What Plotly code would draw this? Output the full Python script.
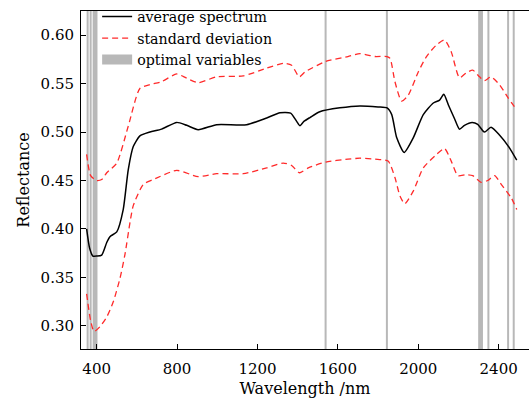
import plotly.graph_objects as go

# ---- data ----
wl_mean = [350, 365, 381, 400, 425, 450, 466, 500, 532, 557, 582, 615, 665, 723, 798, 848,
           905, 997, 1146, 1246, 1312, 1365, 1395, 1411, 1431, 1461, 1510, 1610, 1710, 1800,
           1845, 1868, 1893, 1930, 1975, 2025, 2075, 2106, 2127, 2150, 2180, 2205, 2230, 2268,
           2296, 2329, 2362, 2404, 2453, 2490]
mean_vals = [0.400, 0.380, 0.372, 0.372, 0.373, 0.386, 0.392, 0.397, 0.420, 0.461, 0.485, 0.496,
             0.500, 0.503, 0.510, 0.507, 0.5025, 0.5076, 0.5076, 0.5145, 0.520, 0.5196, 0.511,
             0.5066, 0.511, 0.515, 0.521, 0.525, 0.527, 0.526, 0.525, 0.518, 0.494, 0.479, 0.494,
             0.518, 0.530, 0.533, 0.539, 0.528, 0.514, 0.503, 0.507, 0.510, 0.508, 0.500, 0.505,
             0.497, 0.484, 0.471]

wl_upper = [350, 370, 400, 425, 450, 500, 557, 615, 665, 723, 798, 848, 905, 997, 1129, 1246,
            1328, 1370, 1408, 1436, 1540, 1650, 1710, 1785, 1845, 1860, 1884, 1917, 1950, 2000,
            2041, 2091, 2131, 2164, 2205, 2238, 2271, 2305, 2329, 2362, 2404, 2448, 2490]
upper_vals = [0.477, 0.455, 0.450, 0.451, 0.458, 0.468, 0.506, 0.545, 0.549, 0.552, 0.560, 0.5556,
              0.551, 0.557, 0.558, 0.566, 0.571, 0.569, 0.557, 0.562, 0.573, 0.578, 0.581, 0.578,
              0.578, 0.576, 0.552, 0.532, 0.538, 0.562, 0.578, 0.590, 0.595, 0.583, 0.556, 0.561,
              0.564, 0.557, 0.553, 0.557, 0.549, 0.535, 0.523]

wl_lower = [350, 370, 387, 416, 450, 483, 516, 541, 566, 582, 632, 682, 798, 905, 997, 1129,
            1246, 1328, 1370, 1408, 1453, 1540, 1650, 1710, 1785, 1850, 1884, 1909, 1933, 1975,
            2025, 2091, 2131, 2164, 2197, 2238, 2271, 2313, 2346, 2380, 2413, 2463, 2490]
lower_vals = [0.333, 0.305, 0.294, 0.299, 0.309, 0.325, 0.349, 0.374, 0.407, 0.424, 0.446, 0.451,
              0.4604, 0.454, 0.457, 0.457, 0.463, 0.468, 0.4655, 0.458, 0.463, 0.469, 0.472,
              0.473, 0.472, 0.470, 0.453, 0.434, 0.426, 0.439, 0.463, 0.477, 0.483, 0.470, 0.455,
              0.456, 0.455, 0.448, 0.450, 0.455, 0.446, 0.432, 0.420]

optimal_wl = [355, 370, 385, 392, 399, 1539, 1844, 2303, 2310, 2317, 2349, 2447, 2475]

x_ticks = [400, 800, 1200, 1600, 2000, 2400]
y_ticks = [0.30, 0.35, 0.40, 0.45, 0.50, 0.55, 0.60]

FONT = "DejaVu Serif"
GRAY = "#b8b8b8"
RED = "#ff2a2a"

fig = go.Figure()

fig.add_trace(go.Scatter(x=wl_mean, y=mean_vals, mode="lines", name="average spectrum",
                         line=dict(color="black", width=1.5, shape="spline", smoothing=0.6)))
fig.add_trace(go.Scatter(x=wl_upper, y=upper_vals, mode="lines", name="standard deviation",
                         legendgroup="sd",
                         line=dict(color=RED, width=1.3, dash="6px,4px", shape="spline", smoothing=0.6)))
fig.add_trace(go.Scatter(x=wl_lower, y=lower_vals, mode="lines", name="standard deviation",
                         legendgroup="sd", showlegend=False,
                         line=dict(color=RED, width=1.3, dash="6px,4px", shape="spline", smoothing=0.6)))
# legend entry for the optimal variables
fig.add_trace(go.Scatter(x=[None], y=[None], mode="lines", name="optimal variables",
                         line=dict(color=GRAY, width=10)))

for w in optimal_wl:
    fig.add_shape(type="line", xref="x", yref="paper", x0=w, x1=w, y0=0, y1=1,
                  line=dict(color=GRAY, width=2), layer="below")

fig.update_layout(
    width=529, height=398,
    margin=dict(l=81, r=0, t=11, b=47),
    paper_bgcolor="white", plot_bgcolor="white",
    font=dict(family=FONT, size=15, color="black"),
    showlegend=True,
    legend=dict(x=0.036, y=1.030, xanchor="left", yanchor="top", bgcolor="rgba(0,0,0,0)",
                font=dict(family=FONT, size=14.2, color="black"), borderwidth=0,
                tracegroupgap=0),
    xaxis=dict(range=[322, 2551], tickvals=x_ticks, ticktext=[str(v) for v in x_ticks],
               ticks="inside", ticklen=5, tickcolor="black", showline=True, linecolor="black",
               linewidth=1, mirror=True, showgrid=False, zeroline=False, ticklabelstandoff=6,
               title=dict(text="Wavelength /nm", font=dict(family=FONT, size=16), standoff=9)),
    yaxis=dict(range=[0.276, 0.625], tickvals=y_ticks, ticktext=[f"{v:.2f}" for v in y_ticks],
               ticks="inside", ticklen=5, tickcolor="black", showline=True, linecolor="black",
               linewidth=1, mirror=False, showgrid=False, zeroline=False, ticklabelstandoff=3,
               title=dict(text="Reflectance", font=dict(family=FONT, size=16), standoff=6)),
)

fig.write_html("out.html", config={"displayModeBar": False},
               post_script="document.body.style.margin='0';")
